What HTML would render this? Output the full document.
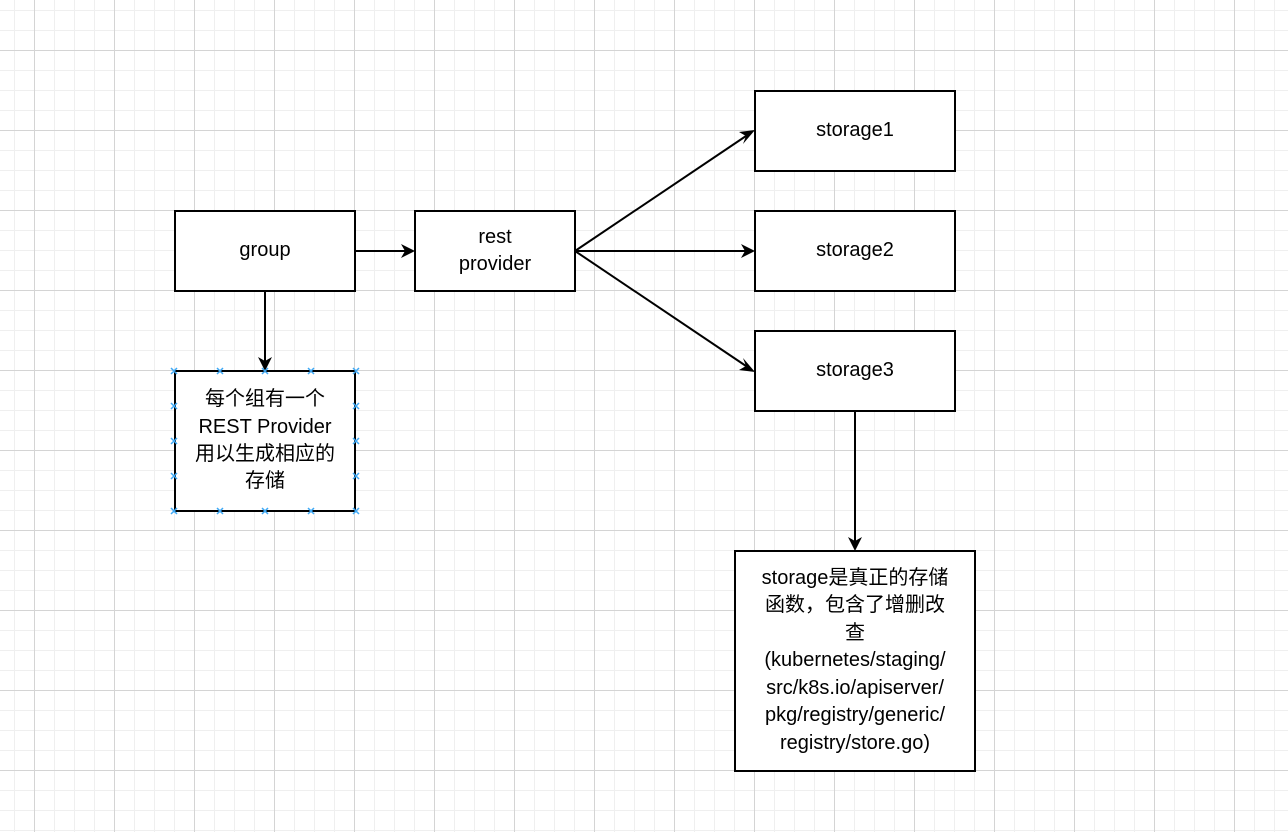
<!DOCTYPE html>
<html><head><meta charset="utf-8"><style>
html,body{margin:0;padding:0;}
body{width:1288px;height:832px;position:relative;overflow:hidden;background-color:#fff;
background-image:
linear-gradient(to right,#d4d4d4 1px,transparent 1px),
linear-gradient(to bottom,#d4d4d4 1px,transparent 1px),
linear-gradient(to right,#efefef 1px,transparent 1px),
linear-gradient(to bottom,#efefef 1px,transparent 1px);
background-size:80px 80px,80px 80px,20px 20px,20px 20px;
background-position:34px 50px,34px 50px,14px 10px,14px 10px;
font-family:"Liberation Sans","Noto Sans CJK SC",sans-serif;}
.b{position:absolute;box-sizing:border-box;border:2px solid #000;background:#fff;display:flex;align-items:center;justify-content:center;text-align:center;font-size:20px;line-height:27.4px;color:#000;}
svg{position:absolute;left:0;top:0;}
</style></head><body>
<div class="b" style="left:174px;top:210px;width:182px;height:82px;">group</div>
<div class="b" style="left:414px;top:210px;width:162px;height:82px;">rest<br>provider</div>
<div class="b" style="left:754px;top:90px;width:202px;height:82px;">storage1</div>
<div class="b" style="left:754px;top:210px;width:202px;height:82px;">storage2</div>
<div class="b" style="left:754px;top:330px;width:202px;height:82px;">storage3</div>
<div class="b" style="left:174px;top:370px;width:182px;height:142px;">每个组有一个<br>REST Provider<br>用以生成相应的<br>存储</div>
<div class="b" style="left:734px;top:550px;width:242px;height:222px;">storage是真正的存储<br>函数，包含了增删改<br>查<br>(kubernetes/staging/<br>src/k8s.io/apiserver/<br>pkg/registry/generic/<br>registry/store.go)</div>
<svg width="1288" height="832">
<g stroke="#000" stroke-width="2" fill="none">
<line x1="355" y1="251" x2="405" y2="251"/>
<line x1="575" y1="251" x2="746" y2="136"/>
<line x1="575" y1="251" x2="745" y2="251"/>
<line x1="575" y1="251" x2="746" y2="366"/>
<line x1="265" y1="291" x2="265" y2="361"/>
<line x1="855" y1="411" x2="855" y2="541"/>
</g>
<g fill="#000">
<polygon points="415,251 401,244 405,251 401,258"/>
<polygon points="755,251 741,244 745,251 741,258"/>
<polygon points="755,130 739,132 746,136 743,144"/>
<polygon points="755,372 743,358 746,366 739,370"/>
<polygon points="265,371 258,357 265,361 272,357"/>
<polygon points="855,551 848,537 855,541 862,537"/>
</g>
<g stroke="#3fa9f5" stroke-width="1.5">
<path d="M171 368l6 6m0-6l-6 6 M217 368l6 6m0-6l-6 6 M262 368l6 6m0-6l-6 6 M308 368l6 6m0-6l-6 6 M353 368l6 6m0-6l-6 6
M171 508l6 6m0-6l-6 6 M217 508l6 6m0-6l-6 6 M262 508l6 6m0-6l-6 6 M308 508l6 6m0-6l-6 6 M353 508l6 6m0-6l-6 6
M171 403l6 6m0-6l-6 6 M171 438l6 6m0-6l-6 6 M171 473l6 6m0-6l-6 6
M353 403l6 6m0-6l-6 6 M353 438l6 6m0-6l-6 6 M353 473l6 6m0-6l-6 6"/>
</g>
</svg>
</body></html>
